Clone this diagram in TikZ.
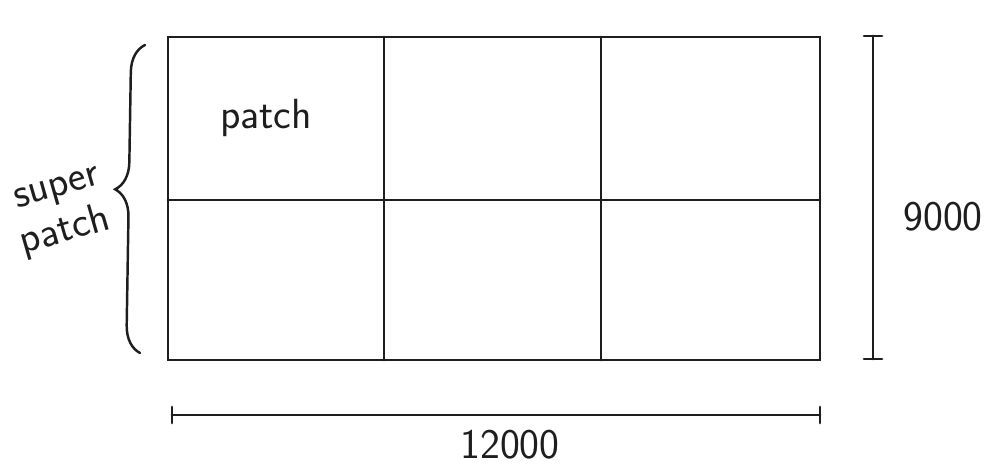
\documentclass[tikz,border=0pt]{standalone}
\usepackage{tikz}
\usetikzlibrary{decorations.pathreplacing}
\definecolor{ink}{RGB}{30,30,30}

\tikzset{
  pen/.style={draw=ink, line width=1.6pt, line cap=round},
  lbl/.style={text=ink, font=\sffamily\fontsize{24}{26}\selectfont, inner sep=1pt}
}

\begin{document}
\begin{tikzpicture}
  \useasboundingbox (0,0) rectangle (20.04,9.32);
  % grid corners
  \coordinate (sw) at (3.36,2.12);
  \coordinate (ne) at (16.40,8.58);
  \draw[pen] (sw) rectangle (ne);
  \draw[pen] (7.68,2.12) -- (7.68,8.58);
  \draw[pen] (12.02,2.12) -- (12.02,8.58);
  \draw[pen] (3.36,5.32) -- (16.40,5.32);
  \node[lbl] (patch) at (5.32,6.96) {patch};

  % brace
  \coordinate (bbot) at (2.80,2.26);
  \coordinate (btop) at (2.90,8.42);
  \draw[pen, line width=1.4pt, decorate,
        decoration={brace, amplitude=0.55cm, aspect=0.53}] (bbot) -- (btop);
  \node[lbl, rotate=16] (super) at (1.16,5.50) {super};
  \node[lbl, rotate=16] (superb) at (1.30,4.70) {patch};

  % height
  \coordinate (htop) at (17.46,8.60);
  \coordinate (hbot) at (17.46,2.14);
  \draw[pen] (htop) -- (hbot);
  \draw[pen] ([xshift=-0.18cm]htop) -- ([xshift=0.18cm]htop);
  \draw[pen] ([xshift=-0.18cm]hbot) -- ([xshift=0.18cm]hbot);
  \node[lbl] (hgt) at (18.86,4.98) {9000};

  % width
  \coordinate (wl) at (3.44,1.02);
  \coordinate (wr) at (16.40,1.02);
  \draw[pen] (wl) -- (wr);
  \draw[pen] ([yshift=-0.16cm]wl) -- ([yshift=0.16cm]wl);
  \draw[pen] ([yshift=-0.16cm]wr) -- ([yshift=0.16cm]wr);
  \node[lbl] (wid) at (10.20,0.42) {12000};
\end{tikzpicture}
\end{document}
